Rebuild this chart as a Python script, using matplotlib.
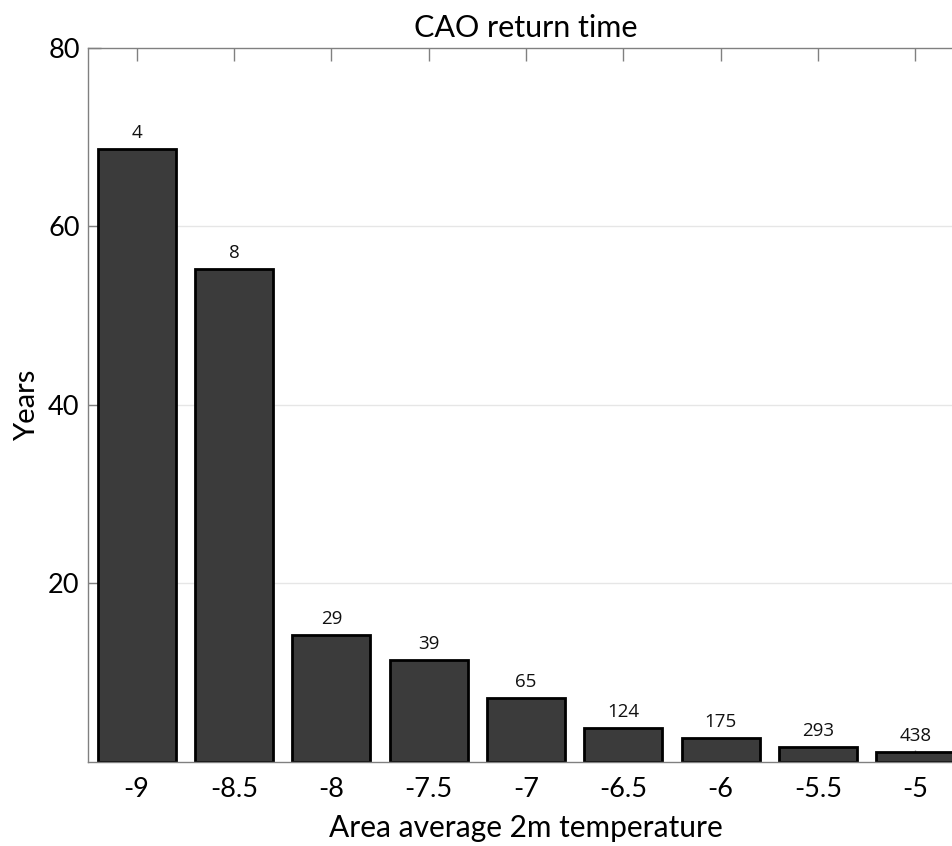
import numpy as np
import matplotlib
matplotlib.use('Agg')
import matplotlib.pyplot as plt

# temperature bins and return times (years), with event counts on top
temps = [-9, -8.5, -8, -7.5, -7, -6.5, -6, -5.5, -5]
return_years = [68.7, 55.2, 14.2, 11.4, 7.1, 3.8, 2.7, 1.6, 1.1]
counts = [4, 8, 29, 39, 65, 124, 175, 293, 438]
tick_labels = ['-9', '-8.5', '-8', '-7.5', '-7', '-6.5', '-6', '-5.5', '-5']
y_ticks = [20, 40, 60, 80]

plt.rcParams['font.family'] = ['Lato', 'DejaVu Sans']

fig = plt.figure(figsize=(9.52, 8.46), dpi=100)
# axes run past the right edge, like the cropped original
ax = fig.add_axes([88 / 952, 84.3 / 846, 876 / 952, 713.7 / 846])

axis_gray = '#808080'

# light horizontal grid under the bars
for yv in y_ticks[:-1]:
    ax.axhline(yv, color='#e6e6e6', lw=1.0, zorder=0.5)

bars = ax.bar(temps, return_years, width=0.4, color='#3b3b3b',
              edgecolor='black', linewidth=2.0, zorder=2)

for b, c in zip(bars, counts):
    ax.annotate(str(c), (b.get_x() + b.get_width() / 2, b.get_height()),
                xytext=(0, 5), textcoords='offset points',
                ha='center', va='bottom', fontsize=13.5,
                family=['Open Sans', 'DejaVu Sans'], color='#111111')

ax.set_xlim(-9.25, -4.75)
ax.set_ylim(0, 80)
ax.set_xticks(temps)
ax.set_xticklabels(tick_labels)
ax.set_yticks(y_ticks)

ax.tick_params(direction='in', length=9, width=1.0, color=axis_gray,
               labelsize=19.5, top=True, right=True)
ax.tick_params(axis='x', pad=11)
ax.tick_params(axis='y', pad=6)
for s in ax.spines.values():
    s.set_color(axis_gray)
    s.set_linewidth(1.0)
    s.set_zorder(3)

ax.set_title('CAO return time', fontsize=22, pad=8)
ax.set_xlabel('Area average 2m temperature', fontsize=21.5, labelpad=9)
ax.set_ylabel('Years', fontsize=21, labelpad=6)

fig.savefig('out.png', dpi=100)
